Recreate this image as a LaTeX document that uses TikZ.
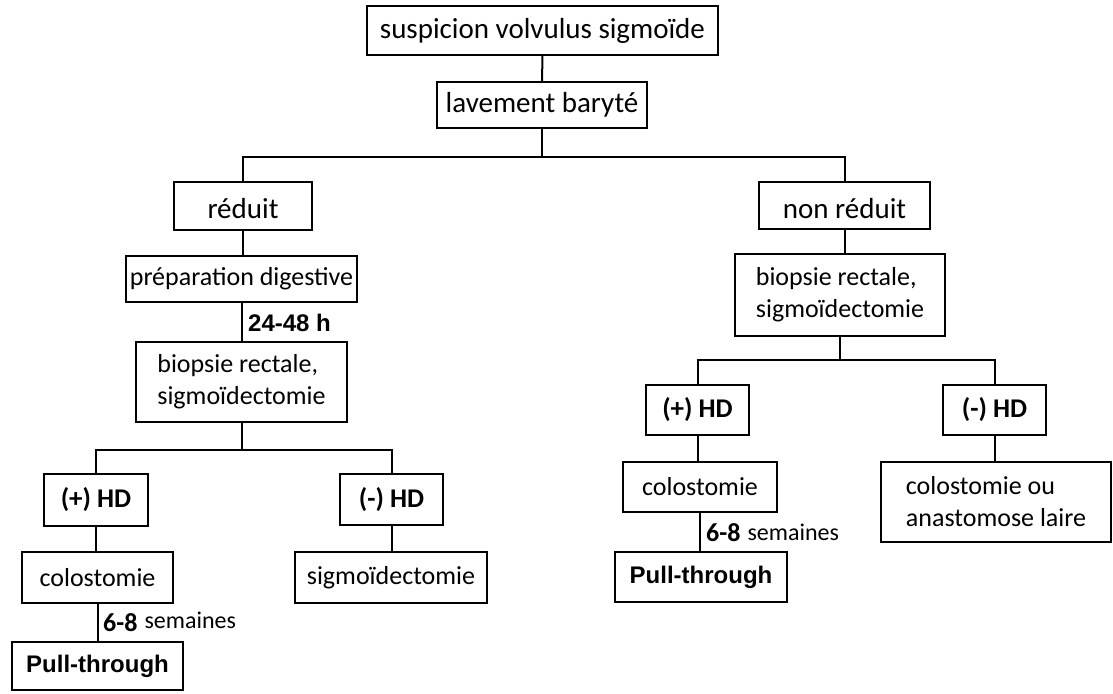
\documentclass[tikz,border=0pt]{standalone}
\usepackage{fontspec}
\setmainfont{Carlito}
\newfontfamily\arialfam{Liberation Sans}
\begin{document}
\begin{tikzpicture}[x=1pt,y=-1pt,
  box/.style={draw, line width=2pt, inner sep=0pt, align=center, font=\fontsize{26}{32}\selectfont},
  big/.style={font=\fontsize{29}{32}\selectfont},
  bx/.style={font=\bfseries\fontsize{27}{32}\selectfont},
  ar/.style={font=\arialfam\bfseries\fontsize{24}{28}\selectfont},
  conn/.style={line width=2pt}]
\useasboundingbox (0,0) rectangle (1113,693);
% nodes
\node[box,big,minimum width=351pt,minimum height=49pt] (top) at (542.5,30.5) {suspicion volvulus sigmoïde};
\node[box,big,minimum width=210pt,minimum height=46pt] (lav) at (542,105) {lavement baryté};
\node[box,big,minimum width=138pt,minimum height=48pt,text height=26pt] (red) at (243,206) {réduit};
\node[box,minimum width=231pt,minimum height=46pt] (prep) at (241.5,279) {préparation digestive};
\node[box,align=left,minimum width=211pt,minimum height=80pt] (bio1) at (241.5,382) {biopsie rectale,\\sigmoïdectomie};
\node[box,bx,minimum width=104pt,minimum height=52pt] (hd1) at (96,500) {(+) HD};
\node[box,bx,minimum width=103pt,minimum height=51pt] (hd2) at (391.5,499.5) {(-) HD};
\node[box,minimum width=151pt,minimum height=51pt] (col1) at (97.5,577.5) {colostomie};
\node[box,minimum width=192pt,minimum height=51pt] (sig) at (391,577.5) {sigmoïdectomie};
\node[box,ar,minimum width=171pt,minimum height=48pt] (pt1) at (97.5,666) {Pull-through};
\node[box,big,minimum width=171pt,minimum height=47pt,text height=26pt] (nred) at (844.5,205.5) {non réduit};
\node[box,align=left,minimum width=210pt,minimum height=82pt] (bio2) at (840,295) {biopsie rectale,\\sigmoïdectomie};
\node[box,bx,minimum width=103pt,minimum height=50pt] (hd3) at (697.5,410) {(+) HD};
\node[box,bx,minimum width=103pt,minimum height=50pt] (hd4) at (994.5,410) {(-) HD};
\node[box,minimum width=154pt,minimum height=50pt] (col2) at (700,487) {colostomie};
\node[box,ar,minimum width=172pt,minimum height=50pt] (pt2) at (701,577) {Pull-through};
\node[box,align=left,minimum width=230pt,minimum height=80pt] (cola) at (996,502) {colostomie ou\\anastomose laire};
% labels
\node[ar,anchor=west,inner sep=0pt] (lab1) at (248,323) {24-48 h};
\node[anchor=west,inner sep=0pt] (lab2) at (103,622) {{\bfseries\fontsize{26}{30}\selectfont 6-8}\hspace{7pt}\raisebox{3pt}{\fontsize{24}{30}\selectfont semaines}};
\node[anchor=west,inner sep=0pt] (lab3) at (706,533) {{\bfseries\fontsize{26}{30}\selectfont 6-8}\hspace{7pt}\raisebox{1pt}{\fontsize{24}{30}\selectfont semaines}};
% junctions
\coordinate (j0) at (0,157);
\coordinate (j1) at (0,450);
\coordinate (j2) at (0,360);
% connectors
\draw[conn] (top) -- (lav);
\draw[conn] (lav.south) -- (lav.south |- j0);
\draw[conn] (red.north) |- (nred.north |- j0) -- (nred.north);
\draw[conn] (red) -- (red.south |- prep.north);
\draw[conn] (prep) -- (prep.south |- bio1.north);
\draw[conn] (bio1.south) -- (bio1.south |- j1);
\draw[conn] (hd1.north) |- (hd2.north |- j1) -- (hd2.north);
\draw[conn] (hd1.south) -- (hd1.south |- col1.north);
\draw[conn] (col1.south) -- (col1.south |- pt1.north);
\draw[conn] (hd2.south) -- (hd2.south |- sig.north);
\draw[conn] (nred) -- (nred.south |- bio2.north);
\draw[conn] (bio2.south) -- (bio2.south |- j2);
\draw[conn] (hd3.north) |- (hd4.north |- j2) -- (hd4.north);
\draw[conn] (hd3.south) -- (hd3.south |- col2.north);
\draw[conn] (col2.south) -- (col2.south |- pt2.north);
\draw[conn] (hd4.south) -- (hd4.south |- cola.north);
\end{tikzpicture}
\end{document}
